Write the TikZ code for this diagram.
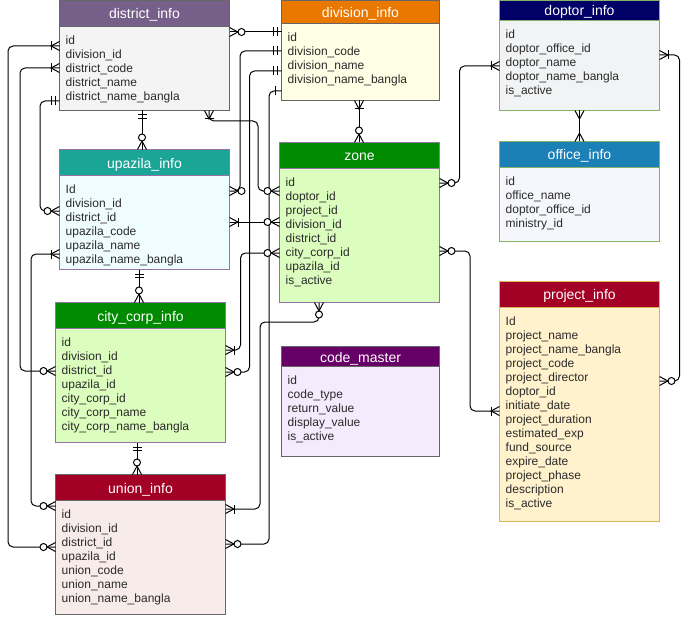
\documentclass[tikz,border=0pt]{standalone}
\usepackage{fontspec}
\setmainfont{Liberation Sans}
\usepackage{xcolor}
\usetikzlibrary{decorations.markings}

\definecolor{rowText}{HTML}{2B2B2B}
\definecolor{greyLine}{HTML}{666666}
\definecolor{purpleLine}{HTML}{9673A6}
\definecolor{greenLine}{HTML}{82B366}
\definecolor{goldLine}{HTML}{D6B656}
\definecolor{districtHead}{HTML}{76608A}
\definecolor{districtBody}{HTML}{F4F4F4}
\definecolor{divisionHead}{HTML}{E87800}
\definecolor{divisionBody}{HTML}{FFFFE6}
\definecolor{doptorHead}{HTML}{000066}
\definecolor{doptorBody}{HTML}{F1F3F4}
\definecolor{officeHead}{HTML}{1A80B6}
\definecolor{officeBody}{HTML}{F5F7FC}
\definecolor{upazilaHead}{HTML}{1BA596}
\definecolor{upazilaBody}{HTML}{F0FDFF}
\definecolor{zoneHead}{HTML}{008A00}
\definecolor{zoneBody}{HTML}{DBFDBD}
\definecolor{codeHead}{HTML}{660066}
\definecolor{codeBody}{HTML}{F6EAFD}
\definecolor{redHead}{HTML}{A20025}
\definecolor{projectBody}{HTML}{FFF2CC}
\definecolor{unionBody}{HTML}{F8ECEB}

\begin{document}
\begin{tikzpicture}[x=1pt, y=-1pt,
  tbl/.style={draw, line width=1pt, anchor=north west, outer sep=0pt, inner sep=0pt},
  head/.style={draw, line width=1pt, anchor=north, outer sep=0pt, inner sep=0pt, text=white,
    font=\fontsize{14pt}{16pt}\selectfont, text height=11pt, text depth=0pt},
  row/.style={anchor=base west, inner sep=0pt, text=rowText, font=\fontsize{12pt}{14pt}\selectfont},
  rel/.style={draw=black, line width=1pt, rounded corners=5pt},
  % crow foot with circle, crow foot with bar, crow foot, two bars, one bar
  zmany/.style={postaction={decorate, decoration={markings, mark=at position #1 with {
    \begin{scope}[xscale=2*#1-1, sharp corners, line width=1pt]
      \draw (0,4.5pt) -- (-8.5pt,0) -- (0,-4.5pt);
      \draw[fill=white] (-12pt,0) circle (3.5pt);
    \end{scope}}}}},
  omany/.style={postaction={decorate, decoration={markings, mark=at position #1 with {
    \begin{scope}[xscale=2*#1-1, sharp corners, line width=1pt]
      \draw (0,4.5pt) -- (-8.5pt,0) -- (0,-4.5pt);
      \draw (-8.5pt,4.5pt) -- (-8.5pt,-4.5pt);
    \end{scope}}}}},
  cmany/.style={postaction={decorate, decoration={markings, mark=at position #1 with {
    \begin{scope}[xscale=2*#1-1, sharp corners, line width=1pt]
      \draw (0,4.5pt) -- (-8.5pt,0) -- (0,-4.5pt);
    \end{scope}}}}},
  mone/.style={postaction={decorate, decoration={markings, mark=at position #1 with {
    \begin{scope}[xscale=2*#1-1, sharp corners, line width=1pt]
      \draw (-4.5pt,4.5pt) -- (-4.5pt,-4.5pt) (-8pt,4.5pt) -- (-8pt,-4.5pt);
    \end{scope}}}}},
  sone/.style={postaction={decorate, decoration={markings, mark=at position #1 with {
    \begin{scope}[xscale=2*#1-1, sharp corners, line width=1pt]
      \draw (-6pt,4.5pt) -- (-6pt,-4.5pt);
    \end{scope}}}}}]

  \useasboundingbox (0,0) rectangle (689,618);

  % Draw the tables
  \node[tbl, fill=districtBody, draw=greyLine, minimum width=170pt, minimum height=110pt] (district) at (59.5,0.5) {};
  \node[head, fill=districtHead, draw=greyLine, minimum width=170pt, minimum height=26pt] (district-head) at (district.north) {district\_info};
  \foreach \t [count=\i] in {id, division\_id, district\_code, district\_name, district\_name\_bangla}
    \node[row] (district-\i) at (65.5, {30.5+14*\i}) {\t};

  \node[tbl, fill=divisionBody, draw=greyLine, minimum width=158pt, minimum height=100pt] (division) at (281.5,0.5) {};
  \node[head, fill=divisionHead, draw=greyLine, minimum width=158pt, minimum height=23pt] (division-head) at (division.north) {division\_info};
  \foreach \t [count=\i] in {id, division\_code, division\_name, division\_name\_bangla}
    \node[row] (division-\i) at (287.5, {27.5+14*\i}) {\t};

  \node[tbl, fill=doptorBody, draw=greenLine, minimum width=160pt, minimum height=110pt] (doptor) at (499.5,0.5) {};
  \node[head, fill=doptorHead, draw=greenLine, minimum width=160pt, minimum height=20pt] (doptor-head) at (doptor.north) {doptor\_info};
  \foreach \t [count=\i] in {id, doptor\_office\_id, doptor\_name, doptor\_name\_bangla, is\_active}
    \node[row] (doptor-\i) at (505.5, {24.5+14*\i}) {\t};

  \node[tbl, fill=officeBody, draw=greenLine, minimum width=160pt, minimum height=100pt] (office) at (499.5,141.5) {};
  \node[head, fill=officeHead, draw=greenLine, minimum width=160pt, minimum height=25.5pt] (office-head) at (office.north) {office\_info};
  \foreach \t [count=\i] in {id, office\_name, doptor\_office\_id, ministry\_id}
    \node[row] (office-\i) at (505.5, {171+14*\i}) {\t};

  \node[tbl, fill=upazilaBody, draw=purpleLine, minimum width=170pt, minimum height=120pt] (upazila) at (59.5,149.5) {};
  \node[head, fill=upazilaHead, draw=purpleLine, minimum width=170pt, minimum height=26pt] (upazila-head) at (upazila.north) {upazila\_info};
  \foreach \t [count=\i] in {Id, division\_id, district\_id, upazila\_code, upazila\_name, upazila\_name\_bangla}
    \node[row] (upazila-\i) at (65.5, {179.5+14*\i}) {\t};

  \node[tbl, fill=zoneBody, draw=purpleLine, minimum width=160pt, minimum height=160pt] (zone) at (279.5,142.5) {};
  \node[head, fill=zoneHead, draw=purpleLine, minimum width=160pt, minimum height=25.5pt] (zone-head) at (zone.north) {zone};
  \foreach \t [count=\i] in {id, doptor\_id, project\_id, division\_id, district\_id, city\_corp\_id, upazila\_id, is\_active}
    \node[row] (zone-\i) at (285.5, {172+14*\i}) {\t};

  \node[tbl, fill=zoneBody, draw=purpleLine, minimum width=170pt, minimum height=140pt] (citycorp) at (55.5,302.5) {};
  \node[head, fill=zoneHead, draw=purpleLine, minimum width=170pt, minimum height=26pt] (citycorp-head) at (citycorp.north) {city\_corp\_info};
  \foreach \t [count=\i] in {id, division\_id, district\_id, upazila\_id, city\_corp\_id, city\_corp\_name, city\_corp\_name\_bangla}
    \node[row] (citycorp-\i) at (61.5, {332.5+14*\i}) {\t};

  \node[tbl, fill=codeBody, draw=greyLine, minimum width=158pt, minimum height=110pt] (codemaster) at (281.5,346.5) {};
  \node[head, fill=codeHead, draw=greyLine, minimum width=158pt, minimum height=20pt] (codemaster-head) at (codemaster.north) {code\_master};
  \foreach \t [count=\i] in {id, code\_type, return\_value, display\_value, is\_active}
    \node[row] (codemaster-\i) at (287.5, {370.5+14*\i}) {\t};

  \node[tbl, fill=projectBody, draw=goldLine, minimum width=160pt, minimum height=240pt] (project) at (499.5,281.5) {};
  \node[head, fill=redHead, draw=goldLine, minimum width=160pt, minimum height=25.5pt] (project-head) at (project.north) {project\_info};
  \foreach \t [count=\i] in {Id, project\_name, project\_name\_bangla, project\_code, project\_director, doptor\_id, initiate\_date,
      project\_duration, estimated\_exp, fund\_source, expire\_date, project\_phase, description, is\_active}
    \node[row] (project-\i) at (505.5, {311+14*\i}) {\t};

  \node[tbl, fill=unionBody, draw=greyLine, minimum width=170pt, minimum height=140pt] (union) at (55.5,474.5) {};
  \node[head, fill=redHead, draw=greyLine, minimum width=170pt, minimum height=26pt] (union-head) at (union.north) {union\_info};
  \foreach \t [count=\i] in {id, division\_id, district\_id, upazila\_id, union\_code, union\_name, union\_name\_bangla}
    \node[row] (union-\i) at (61.5, {504.5+14*\i}) {\t};

  % Draw the relations
  \draw[rel, zmany=0, mone=1] ([yshift=-31.5pt]district.north east) -- ([yshift=-31.5pt]division.north west);
  \draw[rel, mone=0, zmany=1] ([yshift=-50.5pt]division.north west) -- ++(-41.5,0) |- ([yshift=-41.5pt]upazila.north east);
  \draw[rel, mone=0, zmany=1] ([yshift=-70.5pt]division.north west) -- ++(-32,0) |- ([yshift=-69.5pt]citycorp.north east);
  \draw[rel, sone=0, zmany=1] ([yshift=-90.5pt]division.north west) -- ++(-12.5,0) |- ([yshift=-69.5pt]union.north east);
  \draw[rel, omany=0, zmany=1] ([xshift=-20.5pt]district.south east) -- ++(0,10.5) -- ++(49,0) |- ([yshift=-48.5pt]zone.north west);
  \draw[rel, omany=0, zmany=1] ([yshift=-72.5pt]upazila.north east) -- ([yshift=-79.5pt]zone.north west);
  \draw[rel, zmany=0, omany=1] ([yshift=-110.5pt]zone.north west) -- ++(-39,0) |- ([yshift=-47.5pt]citycorp.north east);
  \draw[rel, zmany=0, omany=1] ([xshift=39.5pt]zone.south west) -- ++(0,19.5) -- ++(-59,0) |- ([yshift=-34.5pt]union.north east);
  \draw[rel, omany=0, zmany=1] ([xshift=-1.5pt]division.south) -- ([xshift=-0.5pt]zone.north);
  \draw[rel, mone=0, zmany=1] ([xshift=-2.5pt]district.south) -- ([xshift=-2.5pt]upazila.north);
  \draw[rel, mone=0, zmany=1] ([xshift=-5.5pt]upazila.south) -- ([xshift=-1.5pt]citycorp.north);
  \draw[rel, mone=0, zmany=1] ([xshift=-3.5pt]citycorp.south) -- ([xshift=-3.5pt]union.north);
  \draw[rel, cmany=0, cmany=1] (doptor.south) -- (office.north);
  \draw[rel, zmany=0, omany=1] ([yshift=-40.5pt]zone.north east) -- ++(20,0) |- ([yshift=-65.5pt]doptor.north west);
  \draw[rel, zmany=0, omany=1] ([yshift=-108.5pt]zone.north east) -- ++(30.5,0) |- ([yshift=-129.5pt]project.north west);
  \draw[rel, omany=0, zmany=1] ([yshift=-54.5pt]doptor.north east) -- ++(20,0) |- ([yshift=-99.5pt]project.north east);
  \draw[rel, omany=0, zmany=1] ([yshift=-45.5pt]district.north west) -- ++(-51.5,0) |- ([yshift=-72.5pt]union.north west);
  \draw[rel, omany=0, zmany=1] ([yshift=-67.5pt]district.north west) -- ++(-39.5,0) |- ([yshift=-68.5pt]citycorp.north west);
  \draw[rel, mone=0, zmany=1] ([yshift=-100.5pt]district.north west) -- ++(-19.5,0) |- ([yshift=-61.5pt]upazila.north west);
  \draw[rel, omany=0, zmany=1] ([yshift=-104.5pt]upazila.north west) -- ++(-28.5,0) |- ([yshift=-31.5pt]union.north west);
\end{tikzpicture}
\end{document}
